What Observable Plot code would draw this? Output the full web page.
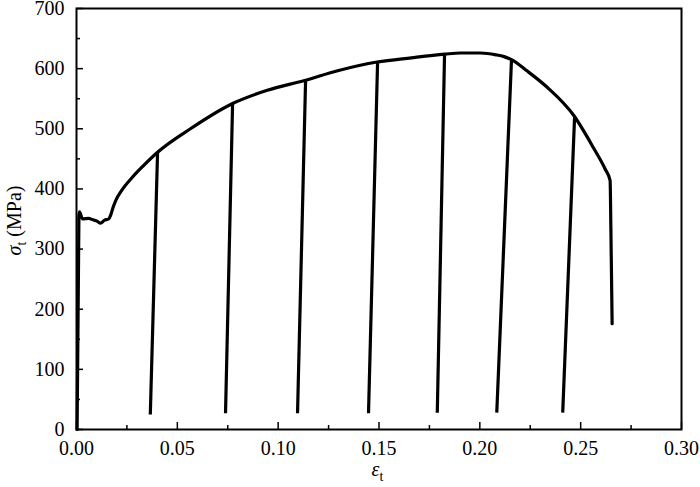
<!DOCTYPE html>
<html>
<head>
<meta charset="utf-8">
<script src="https://cdn.jsdelivr.net/npm/d3@7"></script>
<script src="https://cdn.jsdelivr.net/npm/@observablehq/plot@0.6"></script>
<style>
  html, body { margin: 0; padding: 0; background: #fff; }
  #chart svg { display: block; }
</style>
</head>
<body>
<div id="chart"></div>
<script>
// Envelope (monotonic tension curve) — true strain vs true stress (MPa)
const envelopeStrain = [0.0003, 0.0012, 0.0015, 0.003, 0.006, 0.0079, 0.0104, 0.0119, 0.0139, 0.0159, 0.0169, 0.0180, 0.0195, 0.0225, 0.0276, 0.0330, 0.0402, 0.0565, 0.0774, 0.0946, 0.1127, 0.1300, 0.1491, 0.1660, 0.1825, 0.1904, 0.2003, 0.2080, 0.2120, 0.2157, 0.2235, 0.2334, 0.2466, 0.2564, 0.2620, 0.2646, 0.2650, 0.2656];
const envelopeStress = [0, 355, 362, 350, 351, 349, 346, 343, 348, 350, 356, 368, 381, 398, 419, 438, 461, 500, 542, 564, 580, 597, 611, 618, 624, 626, 626, 623, 620, 615, 596, 569, 522, 468, 434, 414, 330, 176];

// Unloading / reloading segments
const unloadTopStrain = [0.0402, 0.0774, 0.1136, 0.1493, 0.1825, 0.2157, 0.2470];
const unloadTopStress = [461, 542, 581, 611, 624, 615, 521];
const unloadBottomStrain = [0.0366, 0.0739, 0.1096, 0.1448, 0.1789, 0.2084, 0.2411];
const unloadBottomStress = [25, 27, 27, 27, 28, 28, 28];

// Axis ticks
const xMajor = [0, 0.05, 0.10, 0.15, 0.20, 0.25, 0.30];
const xMinor = [0.025, 0.075, 0.125, 0.175, 0.225, 0.275];
const yMajor = [0, 100, 200, 300, 400, 500, 600, 700];
const yMinor = [50, 150, 250, 350, 450, 550, 650];

const envelope = envelopeStrain.map((x, i) => ({x, y: envelopeStress[i]}));
const unload = unloadTopStrain.map((x, i) => ({
  x1: unloadBottomStrain[i], y1: unloadBottomStress[i], x2: x, y2: unloadTopStress[i]
}));

const W = 700, H = 487, mL = 76, mR = 19, mT = 8, mB = 58;
const fw = W - mL - mR, fh = H - mT - mB;
const FONT = "Liberation Serif";

const plot = Plot.plot({
  width: W, height: H,
  marginLeft: mL, marginRight: mR, marginTop: mT, marginBottom: mB,
  style: {fontSize: "20px", color: "black", background: "white", overflow: "visible"},
  x: {domain: [0, 0.3]},
  y: {domain: [0, 700]},
  marks: [
    Plot.axisX({ticks: xMajor, tickSize: 0, tickPadding: 11, tickFormat: d => d.toFixed(2), fontSize: 20, label: null}),
    Plot.axisY({ticks: yMajor, tickSize: 0, tickPadding: 12, tickFormat: d => String(d), fontSize: 20, label: null}),
    Plot.tickX(xMajor, {x: d => d, insetTop: fh - 7, stroke: "black", strokeWidth: 1.5}),
    Plot.tickX(xMinor, {x: d => d, insetTop: fh - 4, stroke: "black", strokeWidth: 1.5}),
    Plot.tickY(yMajor, {y: d => d, insetRight: fw - 7, stroke: "black", strokeWidth: 1.5}),
    Plot.tickY(yMinor, {y: d => d, insetRight: fw - 4, stroke: "black", strokeWidth: 1.5}),
    Plot.link(unload, {x1: "x1", y1: "y1", x2: "x2", y2: "y2", stroke: "black", strokeWidth: 3.2, strokeLinecap: "butt"}),
    Plot.line(envelope, {x: "x", y: "y", stroke: "black", strokeWidth: 3.2, strokeLinejoin: "round", curve: "monotone-x"}),
    Plot.frame({stroke: "black", strokeWidth: 2})
  ]
});

document.getElementById("chart").appendChild(plot);

// Axis titles with italic symbols and subscripts
const svg = d3.select(plot);
svg.attr("font-family", FONT).style("font-family", FONT);
const xt = svg.append("text")
  .attr("x", mL + fw / 2 - 1).attr("y", 476)
  .attr("text-anchor", "middle")
  .attr("font-size", 20).attr("fill", "black");
xt.append("tspan").attr("font-style", "italic").text("ε");
xt.append("tspan").attr("font-size", 14).attr("dy", 5).text("t");

const yt = svg.append("text")
  .attr("transform", `translate(21, ${mT + fh / 2 + 2}) rotate(-90)`)
  .attr("text-anchor", "middle")
  .attr("font-size", 20).attr("fill", "black");
yt.append("tspan").attr("font-style", "italic").text("σ");
yt.append("tspan").attr("font-size", 14).attr("dy", 5).text("t");
yt.append("tspan").attr("dy", -5).text(" (MPa)");

svg.selectAll("g, text, tspan").attr("font-family", FONT).style("font-family", FONT);
</script>
</body>
</html>
